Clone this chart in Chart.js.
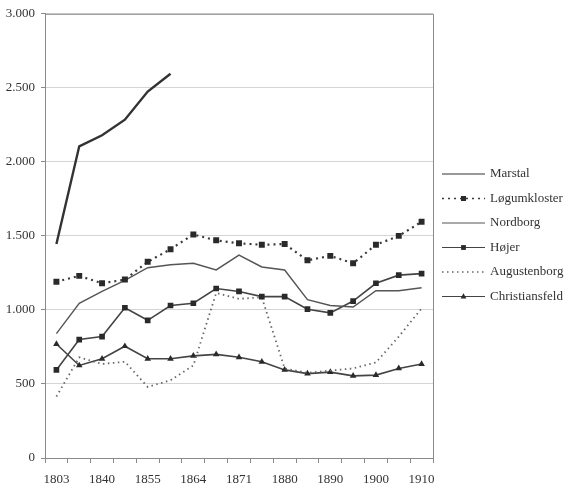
<!DOCTYPE html>
<html>
<head>
<meta charset="utf-8">
<script src="https://cdn.jsdelivr.net/npm/chart.js@4/dist/chart.umd.min.js"></script>
<style>
  html, body { margin: 0; padding: 0; background: #fff; }
  canvas { display: block; }
</style>
</head>
<body>
<canvas id="grafico" width="568" height="489"></canvas>
<script>
// census years, only every other one is printed under the axis
const years = ['1803', '1835', '1840', '1845', '1855', '1860', '1864', '1867', '1871',
  '1875', '1880', '1885', '1890', '1895', '1900', '1905', '1910'];
const shownYears = ['1803', '1840', '1855', '1864', '1871', '1880', '1890', '1900', '1910'];
const yTicks = [0, 500, 1000, 1500, 2000, 2500, 3000];

const marstal = [1445, 2105, 2180, 2285, 2475, 2595, null, null, null, null, null, null, null, null, null, null, null];
const logumkloster = [1190, 1230, 1180, 1205, 1325, 1410, 1510, 1470, 1450, 1440, 1445, 1335, 1365, 1315, 1440, 1500, 1595];
const nordborg = [840, 1045, 1125, 1200, 1285, 1305, 1315, 1270, 1370, 1290, 1270, 1070, 1030, 1020, 1130, 1130, 1150];
const hojer = [595, 800, 820, 1015, 930, 1030, 1045, 1145, 1125, 1090, 1090, 1005, 980, 1060, 1180, 1235, 1245];
const augustenborg = [415, 680, 635, 650, 480, 525, 625, 1115, 1075, 1085, 605, 575, 590, 605, 645, 820, 1010];
const christiansfeld = [770, 625, 670, 755, 670, 670, 690, 700, 680, 650, 595, 570, 580, 555, 560, 605, 635];

const fuente = '"Liberation Serif", "Times New Roman", serif';

function marca(ctx, estilo, r, x, y, color) {
  ctx.fillStyle = color;
  ctx.beginPath();
  if (estilo === 'rect') {
    const s = r * Math.SQRT1_2;
    ctx.rect(x - s, y - s, 2 * s, 2 * s);
  } else if (estilo === 'triangle') {
    ctx.moveTo(x, y - r);
    ctx.lineTo(x + r * 0.9, y + r * 0.6);
    ctx.lineTo(x - r * 0.9, y + r * 0.6);
    ctx.closePath();
  }
  ctx.fill();
}

const caja = {
  id: 'caja',
  beforeDatasetsDraw(chart) {
    const a = chart.chartArea;
    const ctx = chart.ctx;
    ctx.save();
    ctx.strokeStyle = '#8a8a8a';
    ctx.lineWidth = 1;
    ctx.beginPath();
    ctx.moveTo(a.left, a.top + 0.5);
    ctx.lineTo(a.right + 0.5, a.top + 0.5);
    ctx.lineTo(a.right + 0.5, a.bottom);
    ctx.stroke();
    ctx.restore();
  }
};

const leyenda = {
  id: 'leyenda',
  afterDraw(chart) {
    const ctx = chart.ctx;
    chart.data.datasets.forEach((ds, i) => {
      const y = 174 + i * 24.5;
      ctx.save();
      ctx.strokeStyle = ds.borderColor;
      ctx.lineWidth = ds.borderDash ? 1.4 : 1;
      ctx.setLineDash(ds.borderDash || []);
      ctx.beginPath();
      ctx.moveTo(442, y);
      ctx.lineTo(485, y);
      ctx.stroke();
      ctx.setLineDash([]);
      if (ds.pointRadius > 0) {
        marca(ctx, ds.pointStyle, ds.pointRadius * 0.85, 463.5, y, ds.pointBackgroundColor);
      }
      ctx.fillStyle = '#333';
      ctx.font = '13px ' + fuente;
      ctx.textBaseline = 'middle';
      ctx.fillText(ds.label, 490, y);
      ctx.restore();
    });
  }
};

const ctx = document.getElementById('grafico').getContext('2d');
new Chart(ctx, {
  type: 'line',
  data: {
    labels: years,
    datasets: [
      { label: 'Marstal', data: marstal, borderColor: '#333', borderWidth: 2.4, pointRadius: 0 },
      { label: 'Løgumkloster', data: logumkloster, borderColor: '#3a3a3a', borderWidth: 2.2, borderDash: [2, 4],
        pointStyle: 'rect', pointRadius: 4.2, pointBackgroundColor: '#2a2a2a', pointBorderWidth: 0 },
      { label: 'Nordborg', data: nordborg, borderColor: '#555', borderWidth: 1.4, pointRadius: 0 },
      { label: 'Højer', data: hojer, borderColor: '#444', borderWidth: 1.6,
        pointStyle: 'rect', pointRadius: 4, pointBackgroundColor: '#2a2a2a', pointBorderWidth: 0 },
      { label: 'Augustenborg', data: augustenborg, borderColor: '#666', borderWidth: 1.8, borderDash: [1.5, 3.5], pointRadius: 0 },
      { label: 'Christiansfeld', data: christiansfeld, borderColor: '#444', borderWidth: 1.6,
        pointStyle: 'triangle', pointRadius: 3.8, pointBackgroundColor: '#2a2a2a', pointBorderWidth: 0 }
    ]
  },
  options: {
    responsive: false,
    animation: false,
    layout: { padding: { top: 10, right: 135, left: 0, bottom: 0 } },
    elements: { line: { tension: 0, fill: false } },
    plugins: { legend: { display: false }, tooltip: { enabled: false } },
    scales: {
      x: {
        type: 'category',
        offset: true,
        grid: { offset: true, drawOnChartArea: false, drawTicks: true, tickLength: 5, tickColor: '#8a8a8a' },
        border: { color: '#8a8a8a' },
        ticks: {
          autoSkip: false,
          maxRotation: 0,
          padding: 9,
          color: '#333',
          font: { family: fuente, size: 13 },
          callback: function (v) {
            const y = this.getLabelForValue(v);
            return shownYears.includes(y) ? y : '';
          }
        },
        afterFit: s => { s.height = 31; }
      },
      y: {
        min: 0,
        max: 3000,
        afterBuildTicks: s => { s.ticks = yTicks.map(v => ({ value: v })); },
        grid: { color: '#d4d4d4', tickLength: 4, tickColor: '#8a8a8a' },
        border: { color: '#8a8a8a' },
        ticks: {
          padding: 6,
          color: '#333',
          font: { family: fuente, size: 13 },
          callback: v => v.toString().replace(/\B(?=(\d{3})+(?!\d))/g, '.')
        },
        afterFit: s => { s.width = 45; }
      }
    }
  },
  plugins: [caja, leyenda]
});
</script>
</body>
</html>
